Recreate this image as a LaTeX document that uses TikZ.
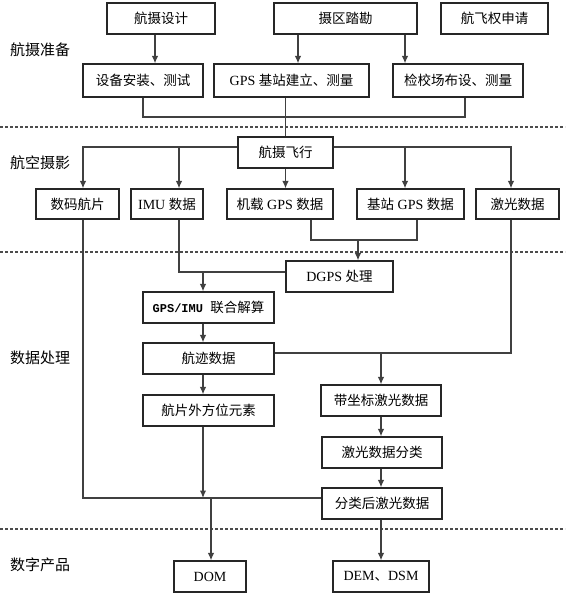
\documentclass[tikz,border=0pt]{standalone}
\usepackage{fontspec}
\setmainfont{Noto Sans CJK SC}
\newfontfamily\lat{Liberation Serif}
\newfontfamily\mono{Liberation Mono}
\usetikzlibrary{arrows.meta}
\tikzset{
    box/.style={draw=black!85, line width=1.2pt, minimum height=31, inner sep=2pt,
        font=\fontsize{13.5}{15}\selectfont},
    stage/.style={anchor=west, inner sep=0pt, font=\fontsize{15}{17}\selectfont},
    line/.style={draw=black!75, line width=1.3pt},
    arr/.style={line, -{Latex[length=7.5pt,width=6.5pt]}},
    sep/.style={draw=black!70, line width=1.1pt, dash pattern=on 3pt off 2pt}
}
\begin{document}
\begin{tikzpicture}[x=1pt, y=-1pt]
        \useasboundingbox (0,0) rectangle (565,597);
        % ---- stage separators ----
        \draw[sep] (0,127) -- (565,127);
        \draw[sep] (0,252) -- (565,252);
        \draw[sep] (0,529) -- (565,529);
        % ---- stage labels ----
        \node[stage] (prep)   at (10,50)  {航摄准备};
        \node[stage] (aerial) at (10,163) {航空摄影};
        \node[stage] (proc)   at (10,358) {数据处理};
        \node[stage] (prod)   at (10,565) {数字产品};
        % ---- preparation ----
        \node[box, minimum width=108] (design) at (161,18.5)   {航摄设计};
        \node[box, minimum width=143] (survey) at (345.5,18.5) {摄区踏勘};
        \node[box, minimum width=107] (permit) at (494.5,18.5) {航飞权申请};
        \node[box, minimum width=120, minimum height=33] (install) at (143,80.5)   {设备安装、测试};
        \node[box, minimum width=155, minimum height=33] (gpsbase) at (291.5,80.5) {{\lat\fontsize{14}{15}\selectfont GPS }基站建立、测量};
        \node[box, minimum width=130, minimum height=33] (calib)   at (458,80.5)   {检校场布设、测量};
        % ---- flight ----
        \node[box, minimum width=95] (flight) at (285.5,152.5) {航摄飞行};
        \node[box, minimum width=83,  minimum height=30] (photo)   at (77.5,204)  {数码航片};
        \node[box, minimum width=72,  minimum height=30] (imu)     at (167,204)   {{\lat\fontsize{14}{15}\selectfont IMU }数据};
        \node[box, minimum width=106, minimum height=30] (airgps)  at (280,204)   {机载{\lat\fontsize{14}{15}\selectfont\ GPS }数据};
        \node[box, minimum width=107, minimum height=30] (basegps) at (410.5,204) {基站{\lat\fontsize{14}{15}\selectfont\ GPS }数据};
        \node[box, minimum width=83,  minimum height=30] (laser)   at (517.5,204) {激光数据};
        % ---- processing ----
        \node[box, minimum width=107] (dgps)       at (339.5,276.5) {{\lat\fontsize{14}{15}\selectfont DGPS }处理};
        \node[box, minimum width=131] (fusion)     at (208.5,307.5) {{\mono\bfseries\fontsize{12}{14}\selectfont GPS/IMU }联合解算};
        \node[box, minimum width=131] (track)      at (208.5,358.5) {航迹数据};
        \node[box, minimum width=131] (exterior)   at (208.5,410.5) {航片外方位元素};
        \node[box, minimum width=120] (coordlaser) at (381,400.5)   {带坐标激光数据};
        \node[box, minimum width=120] (classify)   at (382,452.5)   {激光数据分类};
        \node[box, minimum width=120] (classified) at (382,503.5)   {分类后激光数据};
        % ---- products ----
        \node[box, minimum width=72] (dom) at (210,576.5) {{\lat\fontsize{14}{15}\selectfont DOM}};
        \node[box, minimum width=96] (dem) at (381,576.5) {{\lat\fontsize{14}{15}\selectfont DEM}、{\lat\fontsize{14}{15}\selectfont DSM}};
        % ---- junction points ----
        \coordinate (j1) at (285.5,117);
        \coordinate (fw) at ([yshift=5.5]flight.west);
        \coordinate (fe) at ([yshift=5.5]flight.east);
        \coordinate (imuin)   at ([xshift=12]imu.north);
        \coordinate (imuout)  at ([xshift=12]imu.south);
        \coordinate (basein)  at ([xshift=-5.5]basegps.north);
        \coordinate (baseout) at ([xshift=6.5]basegps.south);
        \coordinate (airout)  at ([xshift=31]airgps.south);
        \coordinate (laserin) at ([xshift=-6.5]laser.north);
        \coordinate (laserout) at ([xshift=-6.5]laser.south);
        \coordinate (photoout) at ([xshift=5.5]photo.south);
        \coordinate (j2) at (358,240);
        \coordinate (j3) at (203,272);
        \coordinate (j4) at (381,353);
        \coordinate (j5) at (203,498);
        \coordinate (j6) at (211,498);
        % ---- preparation links ----
        \draw[arr] ([xshift=-6]design.south) -- ([xshift=12]install.north);
        \draw[arr] ([xshift=-47.5]survey.south) -- ([xshift=6.5]gpsbase.north);
        \draw[arr] ([xshift=59.5]survey.south) -- ([xshift=-53]calib.north);
        \draw[line] (install.south) |- (j1);
        \draw[line] ([xshift=7]calib.south) |- (j1);
        \draw[line] (gpsbase.south -| j1) -- (flight.north -| j1);
        % ---- flight links ----
        \draw[arr] (fw) -| ([xshift=5.5]photo.north);
        \draw[arr] (fw -| imuin) -- (imuin);
        \draw[arr] (flight.south) -- (flight.south |- airgps.north);
        \draw[arr] (fe) -| (laserin);
        \draw[arr] (fe -| basein) -- (basein);
        % ---- processing links ----
        \draw[line] (airout) |- (j2) -| (baseout);
        \draw[arr] (j2) -- (j2 |- dgps.north);
        \draw[line] (imuout) |- ([yshift=4.5]dgps.west);
        \draw[arr] (j3) -- (j3 |- fusion.north);
        \draw[arr] (fusion.south -| j3) -- (track.north -| j3);
        \draw[arr] (track.south -| j3) -- (exterior.north -| j3);
        \draw[line] (laserout) |- ([yshift=5.5]track.east);
        \draw[arr] (j4) -- (j4 |- coordlaser.north);
        \draw[arr] (coordlaser.south -| j4) -- (classify.north -| j4);
        \draw[arr] (classify.south -| j4) -- (classified.north -| j4);
        \draw[line] (photoout) |- ([yshift=5.5]classified.west);
        \draw[arr] (exterior.south -| j5) -- (j5);
        % ---- product links ----
        \draw[arr] (j6) -- (j6 |- dom.north);
        \draw[arr] (classified.south -| j4) -- (dem.north -| j4);
\end{tikzpicture}
\end{document}
